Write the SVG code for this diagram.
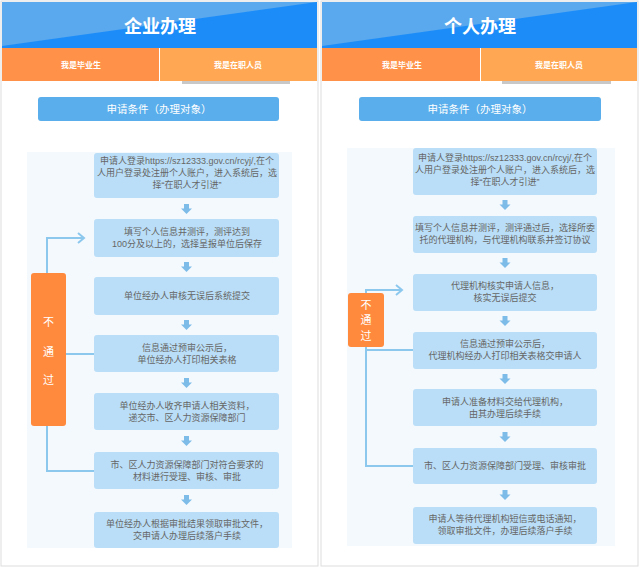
<svg xmlns="http://www.w3.org/2000/svg" width="640" height="568" viewBox="0 0 640 568">
<style>
.title{font-family:"Liberation Sans","Noto Sans CJK SC",sans-serif;font-size:18px;font-weight:bold;fill:#fff;text-anchor:middle}
.tab{font-family:"Liberation Sans","Noto Sans CJK SC",sans-serif;font-size:8px;font-weight:bold;fill:#fff;text-anchor:middle}
.btn{font-family:"Liberation Sans","Noto Sans CJK SC",sans-serif;font-size:10.5px;fill:#fff;text-anchor:middle}
.box{fill:#BADEF7}
.t{font-family:"Liberation Sans","Noto Sans CJK SC",sans-serif;font-size:9px;fill:#666;text-anchor:middle}
.ob{fill:#FF8A3D}
.ot{font-family:"Liberation Sans","Noto Sans CJK SC",sans-serif;font-size:11px;fill:#fff;text-anchor:middle}
.fb{fill:none;stroke:#8CC8EE;stroke-width:2}
.dn{fill:#7DBBE8}
</style>
<defs>
<g id="darrow"><rect x="-2.5" y="0" width="5" height="5"/><path d="M-5.5,4.5 L5.5,4.5 L0,10 Z"/></g>
</defs>
<rect width="640" height="568" fill="#fff"/>

<!-- LEFT PANEL -->
<g id="panel-left">
<rect x="1" y="1" width="317" height="565" fill="#fff" stroke="#DDD" stroke-width="1"/>
<rect x="2" y="2" width="315" height="46" fill="#1C8DF8"/>
<path d="M2,2 L317,2 L2,46 Z" fill="#5AA8EE"/>
<text class="title" x="160" y="33">企业办理</text>
<rect x="2" y="48" width="157" height="33" fill="#FF9148"/>
<rect x="160" y="48" width="157" height="33" fill="#FFA752"/>
<rect x="182" y="81" width="108" height="3" fill="#C8C8C8"/>
<text class="tab" x="81" y="68">我是毕业生</text>
<text class="tab" x="238" y="68">我是在职人员</text>
<rect x="38" y="97" width="241" height="24" rx="3" fill="#5AAEEB"/>
<text class="btn" x="159" y="113">申请条件（办理对象）</text>
<rect x="27" y="152" width="265" height="396" fill="#F4F9FD"/>
</g>

<!-- RIGHT PANEL -->
<g id="panel-right">
<rect x="321" y="1" width="317" height="565" fill="#fff" stroke="#DDD" stroke-width="1"/>
<rect x="322" y="2" width="315" height="46" fill="#1C8DF8"/>
<path d="M322,2 L637,2 L322,46 Z" fill="#5AA8EE"/>
<text class="title" x="480" y="33">个人办理</text>
<rect x="322" y="48" width="158" height="33" fill="#FF9148"/>
<rect x="481" y="48" width="156" height="33" fill="#FFA752"/>
<rect x="502" y="81" width="109" height="3" fill="#C8C8C8"/>
<text class="tab" x="402" y="68">我是毕业生</text>
<text class="tab" x="559" y="68">我是在职人员</text>
<rect x="359" y="97" width="242" height="24" rx="3" fill="#5AAEEB"/>
<text class="btn" x="480" y="113">申请条件（办理对象）</text>
<rect x="347" y="148" width="268" height="398" fill="#F4F9FD"/>
</g>

<!-- CONNECTORS -->
<g id="connectors">
<g class="dn">
<use href="#darrow" x="186.5" y="204"/>
<use href="#darrow" x="186.5" y="262"/>
<use href="#darrow" x="186.5" y="320"/>
<use href="#darrow" x="186.5" y="378"/>
<use href="#darrow" x="186.5" y="436"/>
<use href="#darrow" x="186.5" y="495"/>
<use href="#darrow" x="505" y="200"/>
<use href="#darrow" x="505" y="258"/>
<use href="#darrow" x="505" y="316"/>
<use href="#darrow" x="505" y="374"/>
<use href="#darrow" x="505" y="432"/>
<use href="#darrow" x="505" y="490"/>
</g>
<path class="fb" d="M94,471 L47,471 L47,238 L84,238"/>
<path class="fb" d="M78,233 L84,238 L78,243"/>
<path class="fb" d="M60,354 L94,354"/>
<path class="fb" d="M413,466 L366,466 L366,290 L402,290"/>
<path class="fb" d="M396,285 L402,290 L396,295"/>
<path class="fb" d="M366,350 L413,350"/>
</g>

<!-- LEFT NODES -->
<g id="L1"><rect class="box" x="94" y="153" width="185" height="45" rx="3"/>
<text class="t" x="187" y="164">申请人登录https://sz12333.gov.cn/rcyj/,在个</text>
<text class="t" x="187" y="176">人用户登录处注册个人账户，进入系统后，选</text>
<text class="t" x="187" y="188">择“在职人才引进”</text></g>
<g id="L2"><rect class="box" x="94" y="219" width="185" height="38" rx="3"/>
<text class="t" x="187" y="235">填写个人信息并测评，测评达到</text>
<text class="t" x="187" y="247">100分及以上的，选择呈报单位后保存</text></g>
<g id="L3"><rect class="box" x="94" y="277" width="185" height="38" rx="3"/>
<text class="t" x="187" y="299">单位经办人审核无误后系统提交</text></g>
<g id="L4"><rect class="box" x="94" y="335" width="185" height="37" rx="3"/>
<text class="t" x="187" y="351">信息通过预审公示后，</text>
<text class="t" x="187" y="363">单位经办人打印相关表格</text></g>
<g id="L5"><rect class="box" x="94" y="393" width="185" height="37" rx="3"/>
<text class="t" x="187" y="409">单位经办人收齐申请人相关资料，</text>
<text class="t" x="187" y="421">递交市、区人力资源保障部门</text></g>
<g id="L6"><rect class="box" x="94" y="452" width="185" height="37" rx="3"/>
<text class="t" x="187" y="468">市、区人力资源保障部门对符合要求的</text>
<text class="t" x="187" y="480">材料进行受理、审核、审批</text></g>
<g id="L7"><rect class="box" x="94" y="512" width="185" height="36" rx="3"/>
<text class="t" x="187" y="527">单位经办人根据审批结果领取审批文件，</text>
<text class="t" x="187" y="539">交申请人办理后续落户手续</text></g>
<g id="L-fail"><rect class="ob" x="31" y="273" width="35" height="153" rx="3"/>
<text class="ot" x="48.5" y="326">不</text>
<text class="ot" x="48.5" y="356">通</text>
<text class="ot" x="48.5" y="384">过</text></g>

<!-- RIGHT NODES -->
<g id="R1"><rect class="box" x="413" y="148" width="184" height="47" rx="3"/>
<text class="t" x="505" y="161">申请人登录https://sz12333.gov.cn/rcyj/,在个</text>
<text class="t" x="505" y="173">人用户登录处注册个人账户，进入系统后，选</text>
<text class="t" x="505" y="185">择“在职人才引进”</text></g>
<g id="R2"><rect class="box" x="413" y="216" width="184" height="37" rx="3"/>
<text class="t" x="505" y="231">填写个人信息并测评，测评通过后，选择所委</text>
<text class="t" x="505" y="243">托的代理机构，与代理机构联系并签订协议</text></g>
<g id="R3"><rect class="box" x="413" y="274" width="184" height="37" rx="3"/>
<text class="t" x="505" y="289">代理机构核实申请人信息，</text>
<text class="t" x="505" y="301">核实无误后提交</text></g>
<g id="R4"><rect class="box" x="413" y="332" width="184" height="37" rx="3"/>
<text class="t" x="505" y="347">信息通过预审公示后，</text>
<text class="t" x="505" y="359">代理机构经办人打印相关表格交申请人</text></g>
<g id="R5"><rect class="box" x="413" y="389" width="184" height="37" rx="3"/>
<text class="t" x="505" y="405">申请人准备材料交给代理机构，</text>
<text class="t" x="505" y="417">由其办理后续手续</text></g>
<g id="R6"><rect class="box" x="413" y="448" width="184" height="36" rx="3"/>
<text class="t" x="505" y="469">市、区人力资源保障部门受理、审核审批</text></g>
<g id="R7"><rect class="box" x="413" y="507" width="184" height="37" rx="3"/>
<text class="t" x="505" y="522">申请人等待代理机构短信或电话通知，</text>
<text class="t" x="505" y="534">领取审批文件，办理后续落户手续</text></g>
<g id="R-fail"><rect class="ob" x="348" y="293" width="36" height="54" rx="3"/>
<text class="ot" x="366" y="309">不</text>
<text class="ot" x="366" y="324">通</text>
<text class="ot" x="366" y="340">过</text></g>
</svg>
